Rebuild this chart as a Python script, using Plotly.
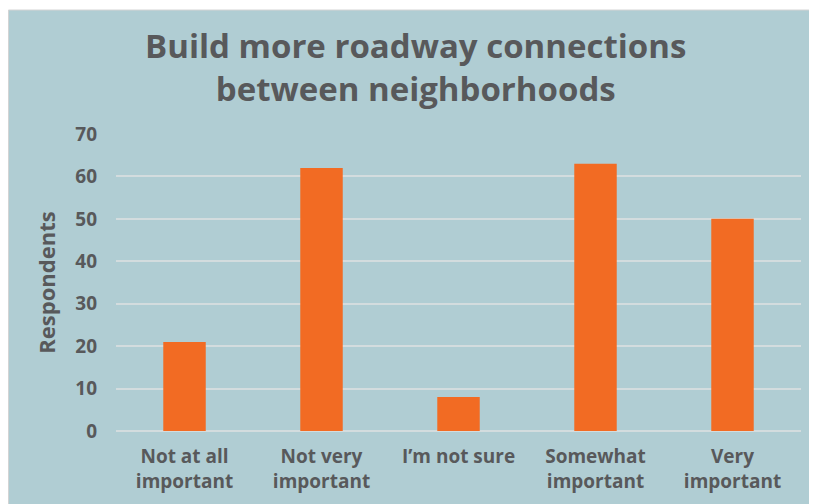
import plotly.graph_objects as go

categories = ["Not at all<br>important", "Not very<br>important", "I’m not sure",
              "Somewhat<br>important", "Very<br>important"]
respondents = [21, 62, 8, 63, 50]
y_ticks = [0, 10, 20, 30, 40, 50, 60, 70]

PANEL = "#B0CDD3"
TEXT = "#58595B"
ORANGE = "#F26B23"
GRID = "#D3DCDE"
FONT = "Open Sans"

fig = go.Figure()
fig.add_bar(x=categories, y=respondents, marker_color=ORANGE, marker_line_width=0)

# light panel behind the chart, leaving a thin white strip at the top
fig.add_shape(type="rect", xref="paper", yref="paper",
              x0=-0.157, x1=1.05, y0=-0.3, y1=1.4175,
              fillcolor=PANEL, line=dict(color="#D4D4D4", width=1), layer="below")

fig.update_layout(
    width=809, height=496,
    margin=dict(l=108, r=16, t=126, b=73),
    paper_bgcolor="white",
    plot_bgcolor="rgba(0,0,0,0)",
    bargap=0.69,
    showlegend=False,
    font=dict(family=FONT, color=TEXT),
    title=dict(
        text="<b>Build more roadway connections<br>between neighborhoods</b>",
        x=0.504, xanchor="center", y=0.9, yanchor="top", yref="container",
        font=dict(size=33, color=TEXT, family=FONT),
    ),
    xaxis=dict(
        showgrid=False, zeroline=False, showline=False, automargin=False,
        tickfont=dict(size=19, color=TEXT, family=FONT, weight="bold"),
        ticklabelstandoff=12,
    ),
    yaxis=dict(
        range=[0, 70], tickvals=y_ticks, automargin=False,
        showgrid=True, gridcolor=GRID, gridwidth=1.5,
        zeroline=True, zerolinecolor=GRID, zerolinewidth=1.5,
        tickfont=dict(size=19, color=TEXT, family=FONT, weight="bold"),
        ticklabelstandoff=18,
        title=dict(text="<b>Respondents</b>", font=dict(size=22, color=TEXT), standoff=13),
    ),
)

fig.write_html("out.html")
